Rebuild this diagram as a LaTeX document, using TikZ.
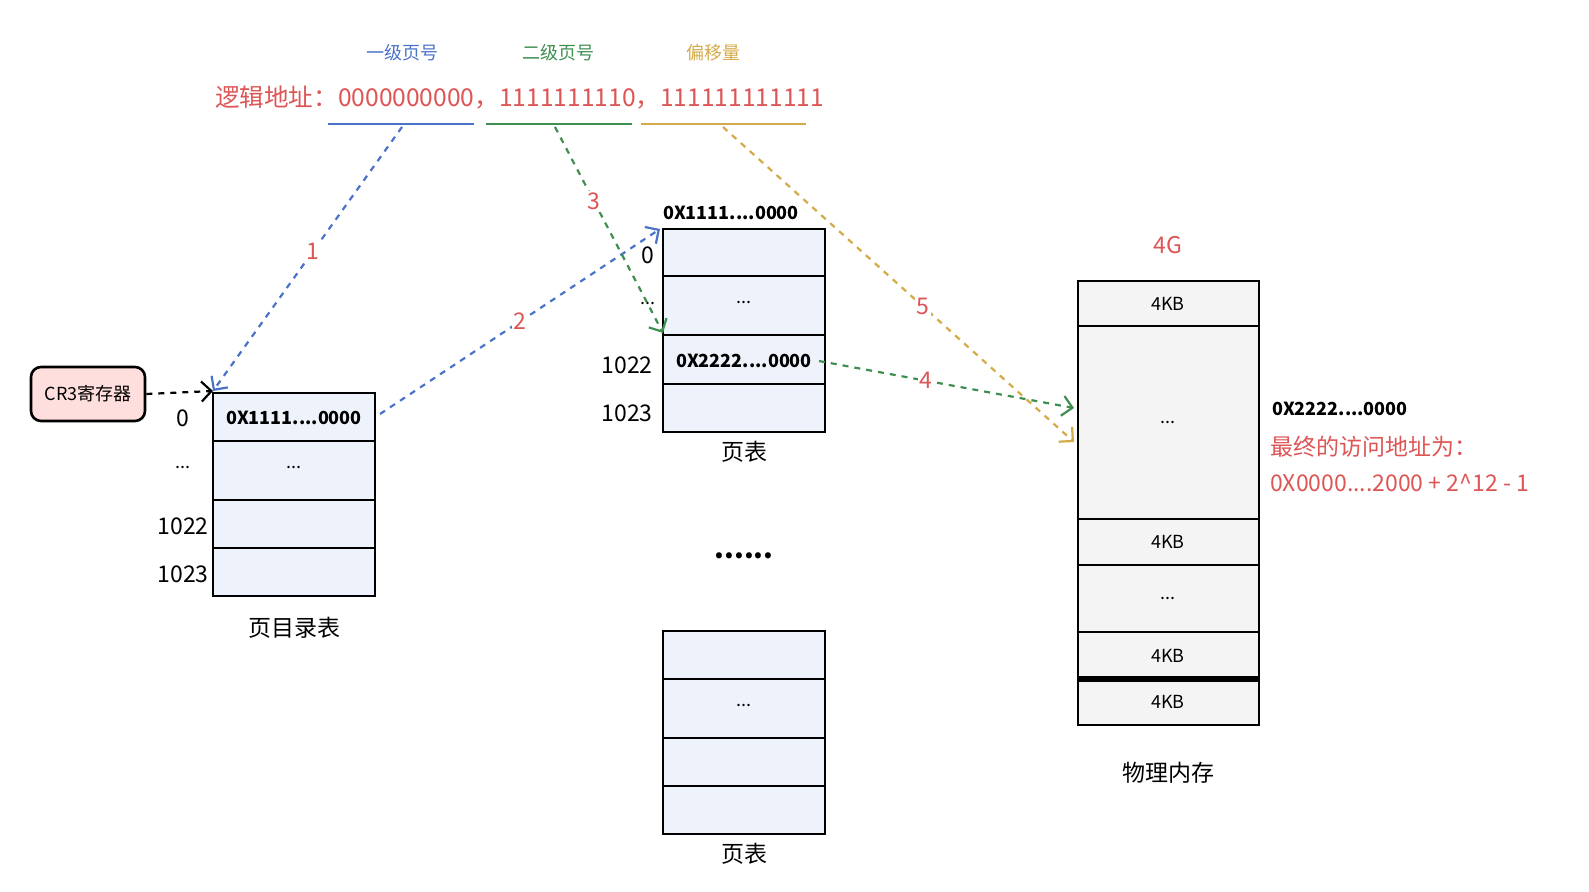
\documentclass[tikz,border=0pt]{standalone}
\usepackage{fontspec}
\setmainfont{Noto Sans CJK SC}
\usetikzlibrary{arrows.meta}
\definecolor{cb}{HTML}{4A72C8}
\definecolor{cg}{HTML}{3E8E50}
\definecolor{co}{HTML}{D4AA48}
\definecolor{cr}{HTML}{DD5555}
\definecolor{tb}{HTML}{EEF2FB}
\definecolor{mg}{HTML}{F4F4F4}
\definecolor{pk}{HTML}{FFDEDE}
\newcommand\mydots{...}
\begin{document}
\begin{tikzpicture}[x=0.5pt,y=-0.5pt,
 cell/.style={draw=black,line width=1.2pt,fill=tb},
 mcell/.style={draw=black,line width=1.2pt,fill=mg},
 arr/.style={dashed,line width=1.1pt,-{Straight Barb[length=5pt]}},
 num/.style={text=cr,font=\fontsize{11.5}{13}\selectfont,fill=white,inner sep=1pt},
 lbl/.style={font=\fontsize{11.5}{13}\selectfont},
 small/.style={font=\fontsize{9}{10}\selectfont},
 bold/.style={font=\fontsize{9}{10}\selectfont\bfseries}]
% top
\node[text=cb,small] (l1) at (402,53) {一级页号};
\node[text=cg,small] (l2) at (558,53) {二级页号};
\node[text=co,small] (l3) at (713,53) {偏移量};
\node[text=cr,font=\fontsize{12.3}{14}\selectfont,anchor=west] (addr) at (208,97) {逻辑地址：0000000000，1111111110，111111111111};
\draw[cb,line width=1.3pt] (328,124) coordinate (b1) -- (474,124);
\draw[cg,line width=1.3pt] (486,124) coordinate (g1) -- (632,124);
\draw[co,line width=1.3pt] (641,124) coordinate (o1) -- (806,124);
\coordinate (bs) at (402,127); \coordinate (gs) at (555,127); \coordinate (os) at (723,127);
% CR3
\node[draw,line width=1.3pt,rounded corners=5pt,fill=pk,minimum width=57pt,minimum height=27pt,small] (cr3) at (88,394) {CR3寄存器};
% page directory
\foreach \a/\b in {393/441,441/500,500/548,548/596}\draw[cell] (213,\a) rectangle (375,\b);
\node[bold] (pd0) at (294,418) {0X1111....0000};
\node[small] (pd1) at (294,467) {\mydots};
\node[lbl] at (183,418) {0};
\node[small] at (183,467) {\mydots};
\node[lbl] at (183,526) {1022};
\node[lbl] at (183,574) {1023};
\node[lbl] (pdc) at (294,628) {页目录表};
\coordinate (pdtop) at (213,391);
% page table 1
\foreach \a/\b in {229/276,276/335,335/384,384/432}\draw[cell] (663,\a) rectangle (825,\b);
\node[bold] (pth) at (731,213) {0X1111....0000};
\node[small] at (744,302) {\mydots};
\node[bold] (pt2) at (744,361) {0X2222....0000};
\node[lbl] at (648,255) {0};
\node[small] at (648,303) {\mydots};
\node[lbl] at (627,365) {1022};
\node[lbl] at (627,413) {1023};
\node[lbl] at (744,452) {页表};
\node[font=\fontsize{14}{14}\selectfont\bfseries] at (744,556) {\mydots\mydots};
% page table 2
\foreach \a/\b in {631/679,679/738,738/786,786/834}\draw[cell] (663,\a) rectangle (825,\b);
\node[small] at (744,705) {\mydots};
\node[lbl] at (744,854) {页表};
% physical memory
\foreach \a/\b/\t in {281/326/4KB,326/519/\mydots,519/565/4KB,565/632/\mydots,632/679/4KB,679/725/4KB}
 {\draw[mcell] (1078,\a) rectangle (1259,\b); \node[small] at (1168,{(\a+\b)/2}) {\t};}
\draw[line width=3pt] (1078,679) -- (1259,679);
\node[text=cr,lbl] at (1168,245) {4G};
\node[lbl] at (1168,773) {物理内存};
\node[bold,anchor=west] at (1265,409) {0X2222....0000};
\node[text=cr,lbl,anchor=west] at (1263,447) {最终的访问地址为：};
\node[text=cr,lbl,anchor=west] at (1263,483) {0X0000....2000 + 2\^{}12 - 1};
\coordinate (m1) at (1074,408); \coordinate (m2) at (1074,442);
% arrows
\draw[arr] (cr3.east) -- (pdtop);
\draw[arr,cb] (bs) -- node[num,pos=0.47] {1} (pdtop);
\draw[arr,cb] (380,414) -- node[num,pos=0.5] {2} (660,229);
\draw[arr,cg] (gs) -- node[num,pos=0.36] {3} (663,333);
\draw[arr,cg] (pt2.east) -- node[num,pos=0.42] {4} (m1);
\draw[arr,co] (os) -- node[num,pos=0.57] {5} (m2);
\pgfresetboundingbox
\useasboundingbox (0,0) rectangle (1589,892);
\end{tikzpicture}
\end{document}
